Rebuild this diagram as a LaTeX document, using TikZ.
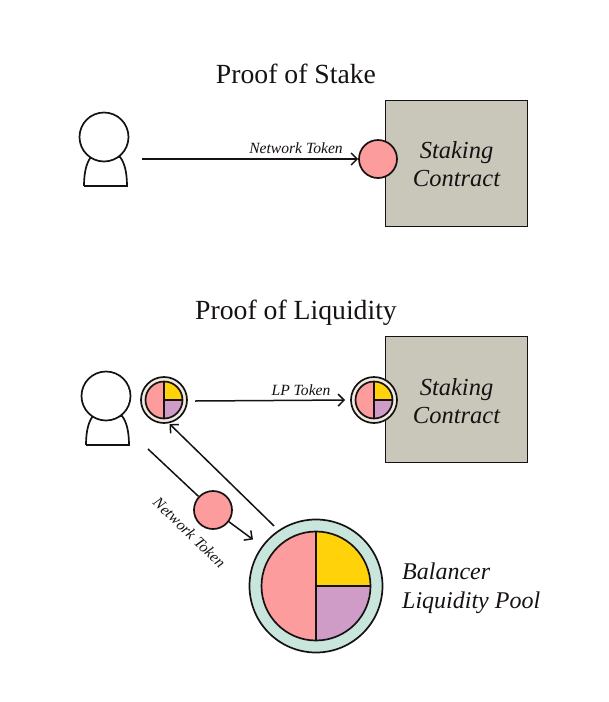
\documentclass[tikz,border=0pt]{standalone}
\usepackage{fontspec}
\setmainfont{Liberation Serif}
\usepackage{xcolor}
\usetikzlibrary{arrows.meta}
\definecolor{coin}{HTML}{FD9C9C}
\definecolor{gold}{HTML}{FFD20A}
\definecolor{plum}{HTML}{CF9CC8}
\definecolor{mint}{HTML}{C9E6DC}
\definecolor{cream}{HTML}{EFEBDF}
\definecolor{stone}{HTML}{C9C6BA}
\definecolor{ink}{HTML}{161214}
\tikzset{
  line/.style={draw=ink, line width=1.7pt},
  flow/.style={draw=ink, line width=1.5pt, -{Straight Barb[length=6pt,width=12pt,line width=1.5pt]}},
  title/.style={font=\fontsize{27.7}{30}\selectfont, text=ink},
  flowlabel/.style={font=\fontsize{15.6}{18}\selectfont\itshape, text=ink, inner sep=0pt},
  boxlabel/.style={font=\fontsize{24.5}{28.5}\selectfont\itshape, text=ink, align=center, inner sep=0pt},
  poollabel/.style={font=\fontsize{24}{29}\selectfont\itshape, text=ink, align=left, inner sep=0pt},
  stake/.style={line, fill=stone, minimum width=142pt, minimum height=126pt, inner sep=0pt},
  token/.style={line, circle, fill=coin, minimum size=38pt, inner sep=0pt}
}
% person: #1 name, #2 x, #3 y of the head
\newcommand{\person}[3]{
  \draw[line] (#2-20,#3+49) -- (#2+23,#3+49) .. controls (#2+23,#3+34) and (#2+20,#3+25) .. (#2+16,#3+20)
    -- (#2-13,#3+20) .. controls (#2-17,#3+25) and (#2-20,#3+34) .. (#2-20,#3+49);
  \node[line, circle, fill=white, minimum size=49pt, inner sep=0pt] (#1) at (#2,#3) {};
}
% lp token: #1 name, #2 x, #3 y, #4 ring, #5 outer size, #6 pie radius
\newcommand{\lptoken}[6]{
  \node[line, circle, fill=#4, minimum size=#5pt, inner sep=0pt] (#1) at (#2,#3) {};
  \fill[coin] (#2,#3) -- (#2,#3-#6) arc[start angle=-90, end angle=-270, radius=#6] -- cycle;
  \fill[gold] (#2,#3) -- (#2+#6,#3) arc[start angle=0, end angle=-90, radius=#6] -- cycle;
  \fill[plum] (#2,#3) -- (#2,#3+#6) arc[start angle=90, end angle=0, radius=#6] -- cycle;
  \draw[line] (#2,#3) circle[radius=#6];
  \draw[line] (#2,#3-#6) -- (#2,#3+#6) (#2,#3) -- (#2+#6,#3);
}

\begin{document}
\begin{tikzpicture}[x=1pt, y=-1pt]
  \useasboundingbox (0,0) rectangle (609,702);

  % proof of stake
  \node[title] (titlestake) at (296,73.5) {Proof of Stake};
  \person{userstake}{104}{137}
  \node[stake, anchor=north west] (boxstake) at (384.5,99.5) {};
  \node[boxlabel] (labelstake) at (456.5,164) {Staking\\Contract};
  \node[token] (tokenstake) at (378,159) {};
  \coordinate (fromstake) at (142,159);
  \draw[flow] (fromstake) -- (tokenstake.west);
  \node[flowlabel] (flowstake) at (296,148) {Network Token};

  % proof of liquidity
  \node[title] (titleliq) at (296,313) {Proof of Liquidity};
  \person{userliq}{106}{396}
  \lptoken{lpuser}{164}{400}{cream}{46}{18.5}
  \node[stake, anchor=north west] (boxliq) at (384.5,335.5) {};
  \node[boxlabel] (labelliq) at (456.5,401) {Staking\\Contract};
  \lptoken{lpstake}{374}{400}{cream}{46}{18.5}
  \coordinate (fromlp) at (195,401);
  \draw[flow, shorten >=5pt] (fromlp) -- (lpstake.west);
  \node[flowlabel] (flowlp) at (301,390) {LP Token};

  % balancer pool
  \lptoken{pool}{316}{586}{mint}{133}{54.5}
  \node[poollabel, anchor=west] (labelpool) at (402,588) {Balancer\\Liquidity Pool};
  \node[token] (tokenswap) at (213,510) {};
  \coordinate (fromswap) at (148,449);
  \draw[flow, -] (fromswap) -- (tokenswap);
  \draw[flow, shorten >=11pt] (tokenswap) -- (pool);
  \draw[flow, shorten >=1pt, shorten <=6pt] (pool.124) -- (lpuser.-78);
  \node[flowlabel, rotate=-44] (flowswap) at (189.5,532.5) {Network Token};
\end{tikzpicture}
\end{document}
